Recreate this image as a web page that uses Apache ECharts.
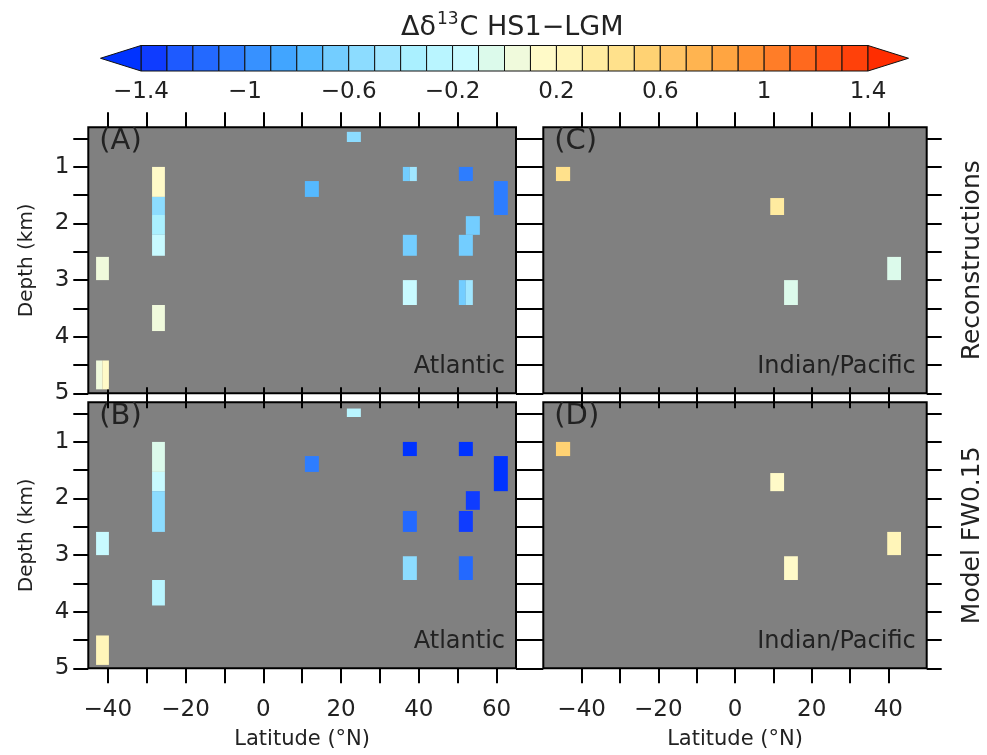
<!DOCTYPE html>
<html><head><meta charset="utf-8">
<script src="https://cdn.jsdelivr.net/npm/echarts@6/dist/echarts.min.js"></script>
<style>html,body{margin:0;padding:0;background:#fff}#c{width:987px;height:755px}</style>
</head><body><div id="c"></div>
<script>
// ---- colour scale (Δδ13C levels) ----
const levelBounds = [-1.4,-1.3,-1.2,-1.1,-1.0,-0.9,-0.8,-0.7,-0.6,-0.5,-0.4,-0.3,-0.2,-0.1,0,
                     0.1,0.2,0.3,0.4,0.5,0.6,0.7,0.8,0.9,1.0,1.1,1.2,1.3,1.4];
const levelColors = ['#0f3cff','#1e5aff','#2369ff','#2d7dff','#3791ff','#41a5ff','#55b9ff','#73cdff',
                     '#8cdcff','#a0e6ff','#aaf0ff','#b9f5ff','#c8faff','#dcfaeb','#f0fadc','#fffac8',
                     '#fff5b9','#ffeba0','#ffe18c','#ffd273','#ffc364','#ffb450','#ffa541','#ff9132',
                     '#ff7d28','#ff691e','#ff5514','#ff410a'];
const underColor = '#0033ff';
const overColor = '#ff2d00';
const colorbarTicks = [-1.4,-1,-0.6,-0.2,0.2,0.6,1,1.4];

// ---- axes ticks ----
const depthTicks = [0.5,1,1.5,2,2.5,3,3.5,4,4.5,5];
const depthLabels = [1,2,3,4,5];
const latTicksAtl = [-40,-30,-20,-10,0,10,20,30,40,50,60];
const latLabelsAtl = [-40,-20,0,20,40,60];
const latTicksIP = [-40,-30,-20,-10,0,10,20,30,40];
const latLabelsIP = [-40,-20,0,20,40];

// ---- cells: [lat0, lat1, depthTop(km), depthBottom(km), Δδ13C] ----
const atlRecon = [
  [21.5,25.1,0.38,0.56,-0.55],
  [-28.6,-25.3,1.0,1.53,0.15],
  [-28.6,-25.3,1.53,1.85,-0.55],
  [-28.6,-25.3,1.85,2.2,-0.35],
  [-28.6,-25.3,2.2,2.57,-0.15],
  [-43.0,-39.7,2.59,3.0,0.05],
  [-28.6,-25.3,3.44,3.9,0.05],
  [-43.0,-41.4,4.42,4.93,0.05],
  [-41.4,-39.7,4.42,4.93,0.15],
  [10.7,14.3,1.25,1.53,-0.75],
  [35.9,37.7,1.0,1.25,-0.65],
  [37.7,39.5,1.0,1.25,-0.45],
  [50.3,53.9,1.0,1.25,-1.05],
  [59.3,62.9,1.25,1.85,-1.05],
  [52.1,55.7,1.87,2.2,-0.65],
  [35.9,39.5,2.2,2.57,-0.65],
  [50.3,53.9,2.2,2.57,-0.65],
  [35.9,39.5,3.0,3.44,-0.15],
  [50.3,52.1,3.0,3.44,-0.65],
  [52.1,53.9,3.0,3.44,-0.45]
];
const atlModel = [
  [21.5,25.1,0.41,0.56,-0.25],
  [-28.6,-25.3,1.0,1.53,-0.05],
  [-28.6,-25.3,1.53,1.87,-0.15],
  [-28.6,-25.3,1.87,2.59,-0.55],
  [-43.0,-39.7,2.59,3.0,-0.15],
  [-28.6,-25.3,3.44,3.89,-0.25],
  [-43.0,-39.7,4.42,4.94,0.25],
  [10.7,14.3,1.25,1.53,-1.05],
  [35.9,39.5,1.0,1.25,-1.5],
  [50.3,53.9,1.0,1.25,-1.5],
  [59.3,62.9,1.25,1.87,-1.5],
  [52.1,55.7,1.87,2.2,-1.35],
  [50.3,53.9,2.22,2.59,-1.35],
  [35.9,39.5,2.22,2.59,-1.15],
  [35.9,39.5,3.02,3.44,-0.55],
  [50.3,53.9,3.02,3.44,-1.15]
];
const ipRecon = [
  [-46.7,-43.0,1.0,1.25,0.45],
  [9.2,12.8,1.55,1.85,0.35],
  [12.8,16.4,3.0,3.44,-0.05],
  [39.7,43.3,2.59,3.0,-0.05]
];
const ipModel = [
  [-46.7,-43.0,1.0,1.25,0.55],
  [9.2,12.8,1.55,1.87,0.15],
  [12.8,16.4,3.02,3.44,0.15],
  [39.7,43.3,2.59,3.0,0.25]
];

function colorFor(v) {
  if (v < levelBounds[0]) return underColor;
  if (v >= levelBounds[levelBounds.length - 1]) return overColor;
  for (let i = 0; i < levelColors.length; i++) {
    if (v >= levelBounds[i] && v < levelBounds[i + 1]) return levelColors[i];
  }
  return overColor;
}
const fmt = v => String(v).replace('-', '\u2212');

const FONT = 'DejaVu Sans';
const TXT = '#222';

const panels = [
  {left: 88.3, top: 127.3, width: 427.7, height: 266, xmin: -45, xmax: 65, ticks: latTicksAtl, labels: latLabelsAtl, data: atlRecon, showX: false, showY: true, letter: '(A)', region: 'Atlantic'},
  {left: 88.3, top: 402.3, width: 427.7, height: 266, xmin: -45, xmax: 65, ticks: latTicksAtl, labels: latLabelsAtl, data: atlModel, showX: true, showY: true, letter: '(B)', region: 'Atlantic'},
  {left: 543.3, top: 127.3, width: 383.4, height: 266, xmin: -50, xmax: 50, ticks: latTicksIP, labels: latLabelsIP, data: ipRecon, showX: false, showY: false, letter: '(C)', region: 'Indian/Pacific'},
  {left: 543.3, top: 402.3, width: 383.4, height: 266, xmin: -50, xmax: 50, ticks: latTicksIP, labels: latLabelsIP, data: ipModel, showX: true, showY: false, letter: '(D)', region: 'Indian/Pacific'}
];

const tickStyle = {show: true, inside: false, length: 15, lineStyle: {color: '#000', width: 2}};
const grid = [], xAxis = [], yAxis = [], series = [], graphic = [];

panels.forEach((p, g) => {
  grid.push({left: p.left, top: p.top, width: p.width, height: p.height, show: true,
             backgroundColor: '#808080', borderColor: '#000', borderWidth: 2, containLabel: false});
  // bottom
  xAxis.push({type: 'value', gridIndex: g, min: p.xmin, max: p.xmax, position: 'bottom',
    axisLine: {show: false}, splitLine: {show: false},
    axisTick: Object.assign({customValues: p.ticks}, tickStyle),
    axisLabel: {show: p.showX, customValues: p.labels, formatter: fmt, margin: 30,
                fontFamily: FONT, fontSize: 23, color: TXT},
    name: p.showX ? 'Latitude (\u00b0N)' : '', nameLocation: 'middle', nameGap: 61,
    nameTextStyle: {fontFamily: FONT, fontSize: 21, color: TXT}});
  // top
  xAxis.push({type: 'value', gridIndex: g, min: p.xmin, max: p.xmax, position: 'top',
    axisLine: {show: false, onZero: false}, splitLine: {show: false},
    axisTick: Object.assign({customValues: p.ticks}, tickStyle),
    axisLabel: {show: false}});
  // left
  yAxis.push({type: 'value', gridIndex: g, min: 0.3, max: 5, inverse: true, position: 'left',
    axisLine: {show: false, onZero: false}, splitLine: {show: false},
    axisTick: Object.assign({customValues: depthTicks}, tickStyle),
    axisLabel: {show: p.showY, customValues: depthLabels, margin: 19,
                fontFamily: FONT, fontSize: 23, color: TXT},
    name: p.showY ? 'Depth (km)' : '', nameLocation: 'middle', nameGap: 52, nameRotate: 90,
    nameTextStyle: {fontFamily: FONT, fontSize: 20, color: TXT}});
  // right
  const sideName = (g === 2) ? 'Reconstructions' : (g === 3 ? 'Model FW0.15' : '');
  yAxis.push({type: 'value', gridIndex: g, min: 0.3, max: 5, inverse: true, position: 'right',
    axisLine: {show: false, onZero: false}, splitLine: {show: false},
    axisTick: Object.assign({customValues: depthTicks}, tickStyle),
    axisLabel: {show: false},
    name: sideName, nameLocation: 'middle', nameGap: 33, nameRotate: 90,
    nameTextStyle: {fontFamily: FONT, fontSize: 25, color: TXT}});

  series.push({
    type: 'custom', xAxisIndex: 2 * g, yAxisIndex: 2 * g,
    data: p.data, encode: {x: [0, 1], y: [2, 3]}, silent: true, clip: false,
    renderItem: (params, api) => {
      const a = api.coord([api.value(0), api.value(2)]);
      const b = api.coord([api.value(1), api.value(3)]);
      return {type: 'rect',
        shape: {x: Math.min(a[0], b[0]), y: Math.min(a[1], b[1]),
                width: Math.abs(b[0] - a[0]), height: Math.abs(b[1] - a[1])},
        style: {fill: colorFor(api.value(4))}};
    }
  });

  graphic.push({type: 'text', left: p.left + 11, top: p.top,
    style: {text: p.letter, font: '29px "DejaVu Sans"', fill: TXT}});
  graphic.push({type: 'text', right: 987 - (p.left + p.width - 11), top: p.top + 227,
    style: {text: p.region, font: '24px "DejaVu Sans"', fill: TXT}});
});

// ---- colour bar ----
const cbGrid = grid.length;
grid.push({left: 141, top: 45.5, width: 727, height: 25.5, show: false});
xAxis.push({type: 'value', gridIndex: cbGrid, min: -1.4, max: 1.4, position: 'bottom',
  axisLine: {show: false}, splitLine: {show: false}, axisTick: {show: false},
  axisLabel: {show: true, customValues: colorbarTicks, formatter: fmt, margin: 10,
              fontFamily: FONT, fontSize: 23, color: TXT}});
yAxis.push({type: 'value', gridIndex: cbGrid, min: 0, max: 1, show: false});
const cbData = [];
for (let i = 0; i < levelColors.length; i++) cbData.push([levelBounds[i], levelBounds[i + 1], i]);
cbData.push([levelBounds[0], levelBounds[0], -1]);
cbData.push([levelBounds[levelBounds.length - 1], levelBounds[levelBounds.length - 1], -2]);
series.push({
  type: 'custom', xAxisIndex: xAxis.length - 1, yAxisIndex: yAxis.length - 1,
  data: cbData, silent: true, clip: false,
  renderItem: (params, api) => {
    const k = api.value(2);
    const a = api.coord([api.value(0), 0]);
    const b = api.coord([api.value(1), 1]);
    const y0 = Math.min(a[1], b[1]), y1 = Math.max(a[1], b[1]);
    if (k >= 0) {
      return {type: 'rect', shape: {x: a[0], y: y0, width: b[0] - a[0], height: y1 - y0},
        style: {fill: levelColors[k], stroke: '#111', lineWidth: 1}};
    }
    const dir = (k === -1) ? -1 : 1;
    return {type: 'polygon',
      shape: {points: [[a[0], y0], [a[0], y1], [a[0] + dir * 40.5, (y0 + y1) / 2]]},
      style: {fill: k === -1 ? underColor : overColor, stroke: '#111', lineWidth: 1}};
  }
});

const option = {
  animation: false,
  title: {
    text: '{a|\u0394\u03b4}{s|13}{a|C HS1\u2212LGM}',
    left: 396, top: 6,
    textStyle: {fontWeight: 'normal', rich: {
      a: {fontFamily: FONT, fontSize: 27, fontWeight: 'normal', color: TXT, lineHeight: 34},
      s: {fontFamily: FONT, fontSize: 17, fontWeight: 'normal', color: TXT, verticalAlign: 'top', lineHeight: 34, padding: [0, 1, 14, 1]}
    }}
  },
  grid, xAxis, yAxis, series, graphic
};
const chart = echarts.init(document.getElementById('c'), null, {renderer: 'canvas'});
chart.setOption(option);
</script></body></html>
